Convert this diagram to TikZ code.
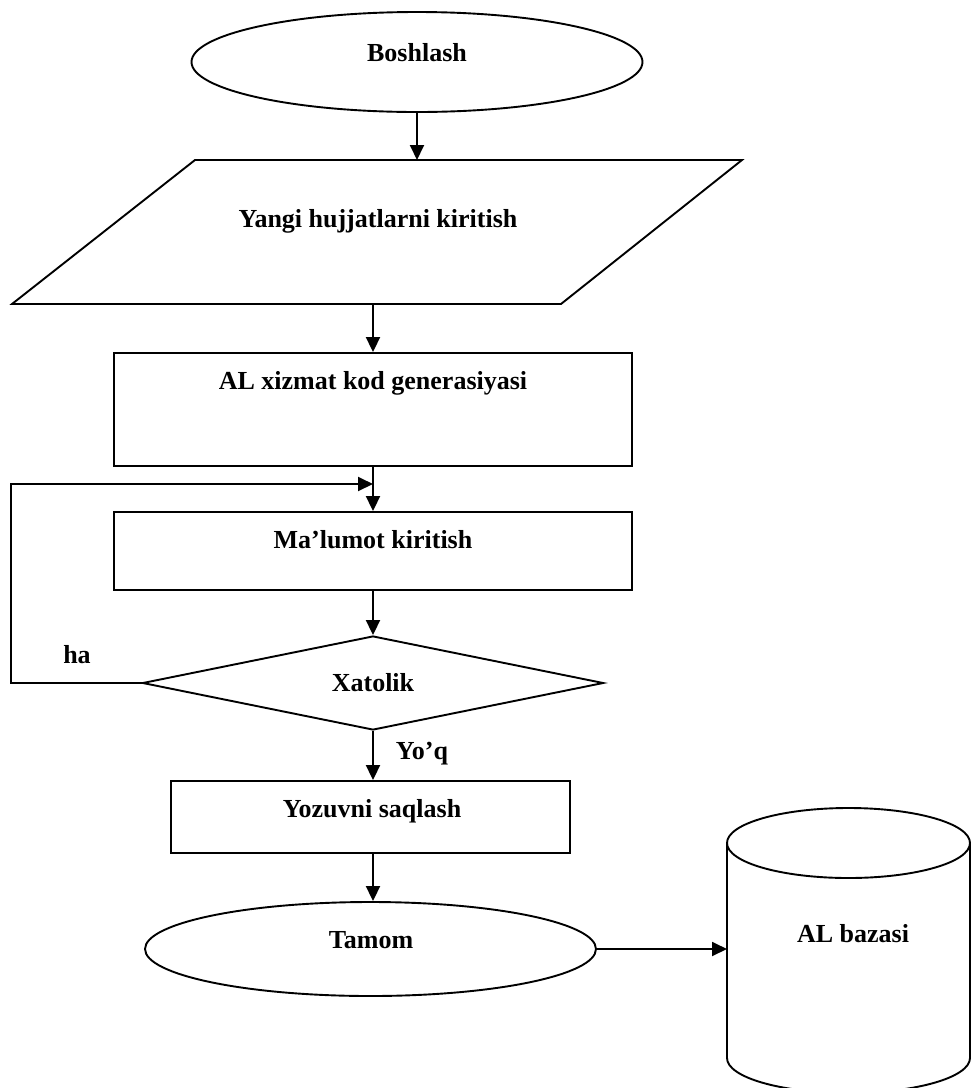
\documentclass[tikz,border=0pt]{standalone}
\usepackage{fontspec}
\setmainfont{Liberation Serif}
\usetikzlibrary{shapes.geometric,arrows.meta}
\begin{document}
\begin{tikzpicture}[x=1pt,y=-1pt,line width=1.9pt,
  shp/.style={draw,inner sep=0pt,line width=1.9pt},
  hold/.style={inner sep=0pt,outer sep=0pt},
  txt/.style={font=\bfseries\fontsize{26}{30}\selectfont,inner sep=0pt,anchor=base},
  arr/.style={-{Triangle[length=15pt,width=14pt]},line width=1.9pt}]
\clip (0,0) rectangle (972,1088);
\fill[white] (0,0) rectangle (972,1088);

% shapes
\node[shp,ellipse,minimum width=451pt,minimum height=100pt] (start) at (417,62) {};
\node[txt] (startT) at (417,61) {Boshlash};

\node[hold,minimum width=550pt,minimum height=144pt] (inp) at (377,232) {};
\draw[shp] (195,160) -- (742,160) -- (561,304) -- (12,304) -- cycle;
\node[txt] (inpT) at (378,227) {Yangi hujjatlarni kiritish};

\node[shp,minimum width=518pt,minimum height=113pt] (gen) at (373,409.5) {};
\node[txt] (genT) at (373,389) {AL xizmat kod generasiyasi};

\node[shp,minimum width=518pt,minimum height=78pt] (data) at (373,551) {};
\node[txt] (dataT) at (373,548) {Ma’lumot kiritish};

\node[shp,diamond,minimum width=461pt,minimum height=94pt] (dec) at (373,683) {};
\node[txt] (decT) at (373,691) {Xatolik};

\node[shp,minimum width=399pt,minimum height=72pt] (save) at (370.5,817) {};
\node[txt] (saveT) at (372,817) {Yozuvni saqlash};

\node[shp,ellipse,minimum width=451pt,minimum height=94pt] (end) at (370.5,949) {};
\node[txt] (endT) at (371,948) {Tamom};

\node[hold,minimum width=243pt,minimum height=215pt] (db) at (848.5,950.5) {};
\draw[shp] (db.north) ellipse [x radius=121.5pt,y radius=35pt];
\draw[shp] (db.north west) -- (db.south west)
  arc[start angle=180,end angle=360,x radius=121.5pt,y radius=35pt] -- (db.north east);
\node[txt] (dbT) at (853,942) {AL bazasi};

% labels
\node[txt] (ha) at (77,663) {ha};
\node[txt] (yoq) at (422,759) {Yo’q};

% connectors
\coordinate (lc) at (11,484);
\coordinate (j) at (373,484);
\draw[arr] (start.south) -- (start.south |- inp.north);
\draw[arr] (gen.north |- inp.south) -- (gen.north);
\draw[arr] (gen.south) -- (data.north);
\draw[arr] (dec.west) -| (lc) -- (j);
\draw[arr] (data.south) -- (dec.north);
\draw[arr] (dec.south) -- (dec.south |- save.north);
\draw[arr] (save.south -| dec.south) -- (end.north -| dec.south);
\draw[arr] (end.east) -- (end.east -| db.west);
\end{tikzpicture}
\end{document}
